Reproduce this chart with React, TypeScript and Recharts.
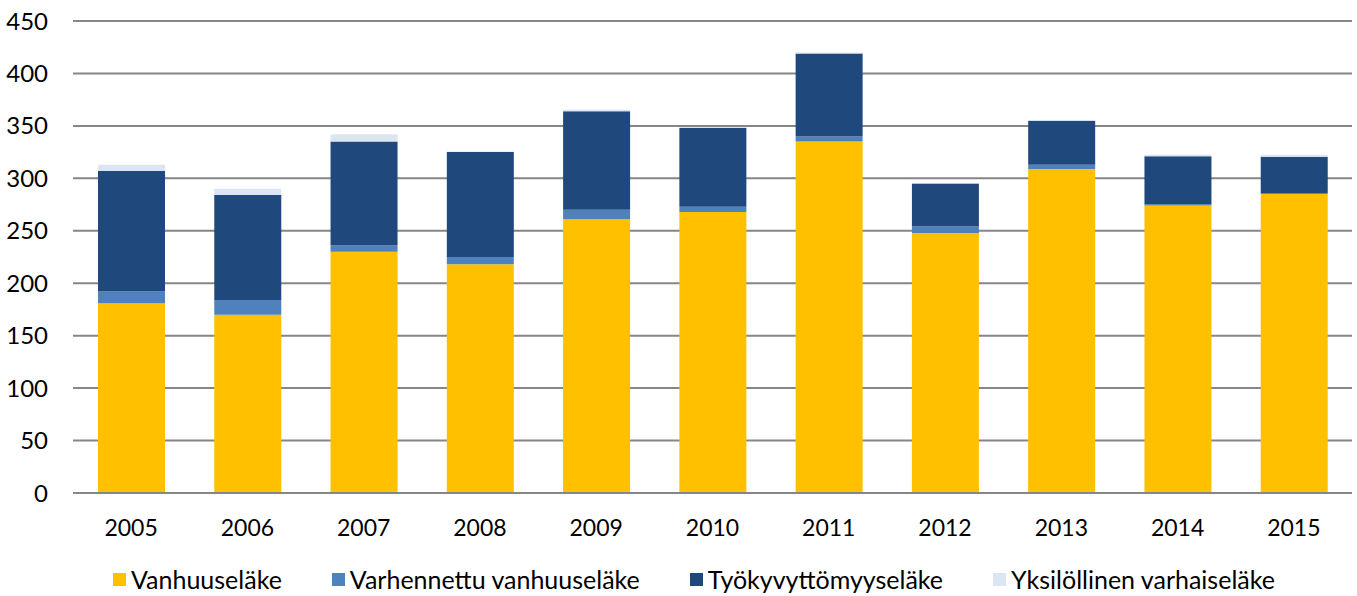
import { Bar, BarChart, CartesianGrid, Legend, XAxis, YAxis } from "recharts";

const years = ["2005", "2006", "2007", "2008", "2009", "2010", "2011", "2012", "2013", "2014", "2015"];
const vanhuus = [181, 170, 230, 218, 261, 268, 335, 248, 309, 274, 285];
const varhennettu = [11, 14, 6, 7, 9, 5, 5, 6, 4, 1, 0.5];
const tyokyvyttomyys = [115, 100, 99, 100, 94, 75, 79, 41, 42, 46, 35];
const yksilollinen = [6, 6, 7, 0.5, 1.5, 1, 1, 0.5, 0.5, 1.5, 2];
const yTicks = [0, 50, 100, 150, 200, 250, 300, 350, 400, 450];

const series = [
  { key: "vanhuus", name: "Vanhuuseläke", color: "#FFC000" },
  { key: "varhennettu", name: "Varhennettu vanhuuseläke", color: "#4F81BD" },
  { key: "tyokyvyttomyys", name: "Työkyvyttömyyseläke", color: "#1F497D" },
  { key: "yksilollinen", name: "Yksilöllinen varhaiseläke", color: "#DCE6F2" },
];

const data = years.map((year, i) => ({
  year,
  vanhuus: vanhuus[i],
  varhennettu: varhennettu[i],
  tyokyvyttomyys: tyokyvyttomyys[i],
  yksilollinen: yksilollinen[i],
}));

const font = "Lato, 'Noto Sans', sans-serif";

const renderLegend = () => (
  <div
    style={{
      display: "flex",
      gap: 50,
      paddingLeft: 113,
      fontFamily: font,
      fontSize: 25,
      color: "#000",
      alignItems: "center",
    }}
  >
    {series.map((s) => (
      <div key={s.key} style={{ display: "flex", alignItems: "center" }}>
        <span style={{ width: 13, height: 13, background: s.color, marginRight: 5 }} />
        <span>{s.name}</span>
      </div>
    ))}
  </div>
);

export default function App() {
  return (
    <div style={{ position: "absolute", left: 0, top: 0 }}>
      <BarChart
        width={1357}
        height={596}
        data={data}
        margin={{ top: 21, right: 5, bottom: 0, left: 0 }}
        barSize={67}
      >
        <CartesianGrid vertical={false} stroke="#868686" strokeWidth={2} />
        <XAxis
          dataKey="year"
          axisLine={{ stroke: "#868686", strokeWidth: 2 }}
          tickLine={false}
          tickMargin={21}
          height={73}
          tick={{ fill: "#000", fontSize: 23, fontFamily: font }}
        />
        <YAxis
          width={73}
          domain={[0, 450]}
          ticks={yTicks}
          axisLine={false}
          tickLine={false}
          tickMargin={19}
          interval={0}
          tick={{ fill: "#000", fontSize: 24, fontFamily: font }}
        />
        <Legend
          verticalAlign="bottom"
          content={renderLegend}
          wrapperStyle={{ left: 0, width: 1357, bottom: 2 }}
        />
        {series.map((s) => (
          <Bar
            key={s.key}
            dataKey={s.key}
            name={s.name}
            stackId="a"
            fill={s.color}
            isAnimationActive={false}
          />
        ))}
      </BarChart>
    </div>
  );
}
